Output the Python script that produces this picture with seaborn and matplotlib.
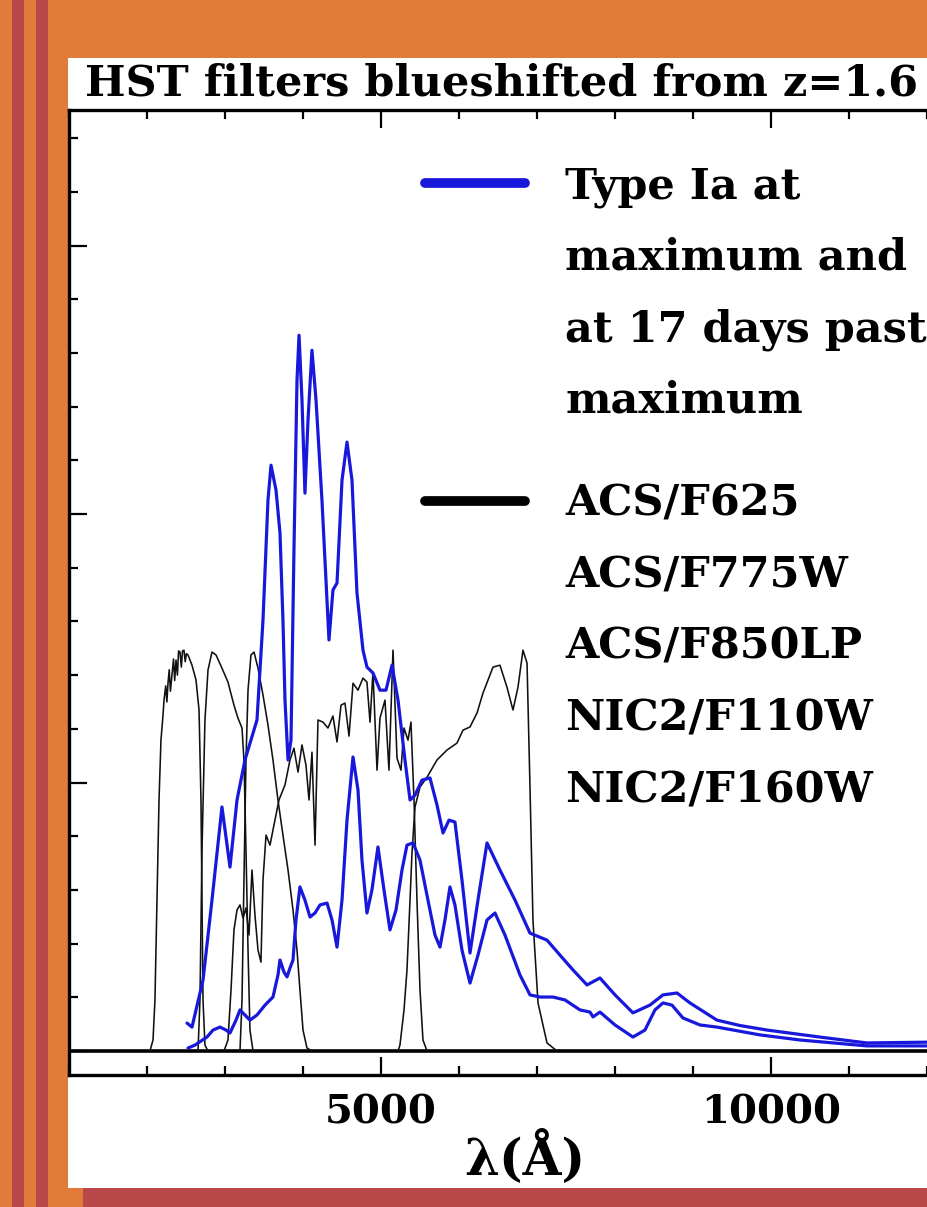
import matplotlib
matplotlib.use("Agg")
import matplotlib.pyplot as plt
from matplotlib.lines import Line2D
from matplotlib.patches import Rectangle
from matplotlib.ticker import MultipleLocator
import seaborn as sns

# Type Ia spectrum at maximum light (wavelength in Angstrom, arbitrary flux)
wave_max = [2513, 2577, 2718, 2833, 2961, 3064, 3154, 3256, 3410, 3487, 3551, 3590,
            3654, 3705, 3743, 3769, 3808, 3846, 3884, 3923, 3949, 3987, 4025, 4064,
            4115, 4167, 4243, 4333, 4384, 4436, 4500, 4564, 4628, 4692, 4769, 4820,
            4897, 4987, 5064, 5141, 5218, 5307, 5372, 5436, 5525, 5628, 5718, 5795,
            5872, 5948, 6038, 6141, 6243, 6359, 6525, 6718, 6910, 7128, 7295, 7461,
            7641, 7807, 8000, 8230, 8448, 8615, 8795, 8961, 9307, 9600, 9948, 10624,
            11230, 12294, 14217]
flux_max = [0.104, 0.089, 0.264, 0.562, 0.909, 0.685, 0.935, 1.084, 1.233, 1.605,
            2.052, 2.182, 2.089, 1.929, 1.605, 1.307, 1.084, 1.158, 1.866, 2.499,
            2.666, 2.424, 2.078, 2.350, 2.610, 2.424, 2.052, 1.531, 1.717, 1.743,
            2.126, 2.268, 2.126, 1.706, 1.493, 1.430, 1.408, 1.344, 1.344, 1.437,
            1.307, 1.084, 0.935, 0.953, 1.009, 1.017, 0.916, 0.812, 0.860, 0.853,
            0.637, 0.365, 0.562, 0.775, 0.674, 0.562, 0.439, 0.413, 0.357, 0.302,
            0.246, 0.272, 0.209, 0.142, 0.171, 0.209, 0.216, 0.179, 0.115, 0.095,
            0.078, 0.052, 0.030, 0.034, 0.034]

# Type Ia spectrum 17 days past maximum
wave_p17 = [2526, 2615, 2769, 2846, 2936, 3013, 3064, 3141, 3192, 3256, 3320, 3410,
            3513, 3615, 3679, 3705, 3756, 3795, 3833, 3872, 3910, 3961, 4025, 4090,
            4154, 4218, 4308, 4372, 4436, 4500, 4564, 4641, 4705, 4756, 4820, 4884,
            4961, 5038, 5115, 5192, 5269, 5333, 5410, 5500, 5602, 5692, 5756, 5820,
            5884, 5948, 6038, 6141, 6243, 6359, 6461, 6589, 6782, 6910, 7038, 7205,
            7359, 7551, 7679, 7718, 7807, 8000, 8230, 8384, 8512, 8615, 8730, 8871,
            9089, 9307, 9858, 10371, 11230, 14217]
flux_p17 = [0.011, 0.022, 0.052, 0.078, 0.089, 0.078, 0.067, 0.115, 0.153, 0.134,
            0.115, 0.134, 0.171, 0.201, 0.283, 0.339, 0.294, 0.276, 0.309, 0.339,
            0.488, 0.611, 0.562, 0.499, 0.514, 0.544, 0.551, 0.488, 0.387, 0.562,
            0.860, 1.095, 0.972, 0.711, 0.514, 0.600, 0.760, 0.600, 0.451, 0.525,
            0.674, 0.767, 0.775, 0.711, 0.562, 0.432, 0.387, 0.488, 0.611, 0.544,
            0.376, 0.253, 0.357, 0.488, 0.514, 0.432, 0.283, 0.209, 0.201, 0.201,
            0.190, 0.153, 0.145, 0.127, 0.145, 0.097, 0.052, 0.078, 0.153, 0.179,
            0.171, 0.123, 0.097, 0.089, 0.060, 0.041, 0.019, 0.019]

# HST filter throughputs, blueshifted
wave_f625 = [2038, 2077, 2102, 2128, 2154, 2179, 2205, 2218, 2240, 2255, 2269, 2285,
             2300, 2320, 2340, 2355, 2372, 2390, 2405, 2423, 2440, 2455, 2474, 2490,
             2505, 2526, 2577, 2628, 2667, 2692, 2705, 2718, 2743, 2782]
thru_f625 = [0.0, 0.041, 0.190, 0.562, 0.935, 1.158, 1.250, 1.307, 1.360, 1.300,
             1.370, 1.420, 1.340, 1.400, 1.460, 1.380, 1.456, 1.400, 1.490, 1.486,
             1.430, 1.490, 1.493, 1.450, 1.480, 1.475, 1.437, 1.382, 1.270, 0.935,
             0.562, 0.190, 0.022, 0.0]

wave_f775 = [2654, 2679, 2705, 2743, 2782, 2833, 2885, 2961, 3038, 3115, 3166, 3218,
             3243, 3269, 3295, 3320, 3359]
thru_f775 = [0.0, 0.190, 0.749, 1.233, 1.419, 1.486, 1.475, 1.426, 1.374, 1.288,
             1.240, 1.203, 1.084, 0.749, 0.376, 0.078, 0.0]

wave_f850 = [3192, 3218, 3243, 3269, 3295, 3333, 3372, 3423, 3487, 3551, 3615, 3679,
             3743, 3808, 3872, 3923, 3961, 4000, 4051, 4115]
thru_f850 = [0.0, 0.190, 0.637, 1.084, 1.344, 1.475, 1.486, 1.426, 1.326, 1.214,
             1.084, 0.935, 0.804, 0.674, 0.525, 0.376, 0.227, 0.078, 0.011, 0.0]

wave_f110 = [2987, 3038, 3077, 3115, 3154, 3192, 3231, 3269, 3308, 3346, 3384, 3423,
             3461, 3487, 3526, 3577, 3628, 3692, 3769, 3833, 3884, 3936, 3987, 4038,
             4077, 4115, 4154, 4192, 4256, 4320, 4384, 4436, 4487, 4538, 4590, 4641,
             4705, 4769, 4820, 4859, 4897, 4949, 4987, 5051, 5102, 5154, 5205, 5256,
             5295, 5346, 5384, 5423, 5461, 5500, 5538, 5590]
thru_f110 = [0.0, 0.041, 0.227, 0.451, 0.525, 0.544, 0.495, 0.533, 0.432, 0.674,
             0.506, 0.376, 0.331, 0.637, 0.804, 0.767, 0.842, 0.935, 0.991, 1.084,
             1.128, 1.039, 1.140, 1.065, 0.935, 1.113, 0.767, 1.233, 1.225, 1.203,
             1.248, 1.151, 1.288, 1.296, 1.173, 1.370, 1.344, 1.389, 1.374, 1.225,
             1.411, 1.046, 1.240, 1.307, 1.046, 1.493, 1.091, 1.046, 1.203, 1.158,
             1.225, 0.935, 0.562, 0.227, 0.041, 0.0]

wave_f160 = [5218, 5243, 5295, 5333, 5372, 5397, 5436, 5500, 5590, 5718, 5846, 5974,
             6051, 6141, 6231, 6307, 6436, 6525, 6615, 6692, 6756, 6820, 6872, 6910,
             6948, 7013, 7128, 7256]
thru_f160 = [0.0, 0.022, 0.153, 0.302, 0.562, 0.737, 0.909, 0.983, 1.020, 1.084,
             1.121, 1.147, 1.195, 1.207, 1.259, 1.333, 1.430, 1.437, 1.355, 1.270,
             1.355, 1.493, 1.445, 0.983, 0.488, 0.179, 0.030, 0.0]

sn_labels = ["Type Ia at", "maximum and", "at 17 days past", "maximum"]
filter_labels = ["ACS/F625", "ACS/F775W", "ACS/F850LP", "NIC2/F110W", "NIC2/F160W"]
x_ticks = [5000, 10000, 15000]
x_ticklabels = ["5000", "10000", ""]
# the slide crops the title at its right edge, as in the original
title = "HST filters blueshifted from z=1.6"

sns.set_style("ticks")
plt.rcParams["font.family"] = ["DejaVu Serif"]
plt.rcParams["font.weight"] = "bold"
plt.rcParams["text.color"] = "black"
plt.rcParams["axes.labelcolor"] = "black"
plt.rcParams["xtick.color"] = "black"
plt.rcParams["ytick.color"] = "black"

ORANGE = "#E07B39"
RED = "#B9484A"
BLUE = "#1818dc"

fig = plt.figure(figsize=(9.28, 12.07), dpi=100, facecolor=ORANGE)

# slide background: stripes, white panel, bottom band
W, H = 928, 1207
def px_rect(x0, y0, x1, y1, color):
    fig.add_artist(Rectangle((x0 / W, 1 - y1 / H), (x1 - x0) / W, (y1 - y0) / H,
                             transform=fig.transFigure, color=color, zorder=-10, lw=0))

px_rect(12, 0, 24, H, RED)
px_rect(36, 0, 48, H, RED)
px_rect(68, 58, W, 1188, "white")
px_rect(83, 1188, W, H, RED)

# axes extend past the right edge of the slide (cropped like the original)
ax = fig.add_axes([69 / W, 132 / H, 1.2608, 965 / H])
ax.set_facecolor("white")

for wv, fl in [(wave_f625, thru_f625), (wave_f775, thru_f775), (wave_f850, thru_f850),
               (wave_f110, thru_f110), (wave_f160, thru_f160)]:
    sns.lineplot(x=wv, y=fl, ax=ax, color="#111111", lw=1.15, estimator=None)

sns.lineplot(x=wave_max, y=flux_max, ax=ax, color=BLUE, lw=2.3, estimator=None)
sns.lineplot(x=wave_p17, y=flux_p17, ax=ax, color=BLUE, lw=2.3, estimator=None)

ax.axhline(0, color="black", lw=2.6, zorder=1)

ax.set_xlim(1000, 16000)
ax.set_ylim(-0.0894, 3.505)
ax.xaxis.set_minor_locator(MultipleLocator(1000))
ax.yaxis.set_major_locator(MultipleLocator(1.0))
ax.yaxis.set_minor_locator(MultipleLocator(0.2))
ax.set_yticklabels([])
ax.set_xticks(x_ticks)
ax.set_xticklabels(x_ticklabels, fontsize=29, fontweight="bold")
ax.tick_params(which="both", direction="in", top=True, right=True, width=1.6,
               color="black")
ax.tick_params(which="major", length=13, pad=13)
ax.tick_params(which="minor", length=6.5)
for sp in ax.spines.values():
    sp.set_linewidth(2.4)
    sp.set_color("black")

ax.set_xlabel("λ(Å)", fontsize=36, fontweight="bold", va="top")
ax.xaxis.set_label_coords(0.39, -0.057)

fig.text(85 / W, 1 - 95 / H, title, fontsize=31, fontweight="bold",
         va="baseline", ha="left")

# legends: two blocks, handle aligned with first line
blank = Line2D([], [], color="none")
sn_handles = [Line2D([], [], color=BLUE, lw=7, solid_capstyle="round")] + [blank] * 3
f_handles = [Line2D([], [], color="black", lw=7, solid_capstyle="round")] + [blank] * 4
leg_kw = dict(frameon=False, prop={"weight": "bold", "size": 31},
              handlelength=2.33, handletextpad=0.93, labelspacing=0.68,
              borderpad=0, borderaxespad=0, loc="upper left",
              bbox_transform=fig.transFigure)
leg1 = ax.legend(sn_handles, sn_labels, bbox_to_anchor=(425 / W, 1 - 165 / H), **leg_kw)
ax.add_artist(leg1)
ax.legend(f_handles, filter_labels, bbox_to_anchor=(425 / W, 1 - 483 / H), **leg_kw)

fig.savefig("out.png", dpi=100, facecolor=ORANGE)
